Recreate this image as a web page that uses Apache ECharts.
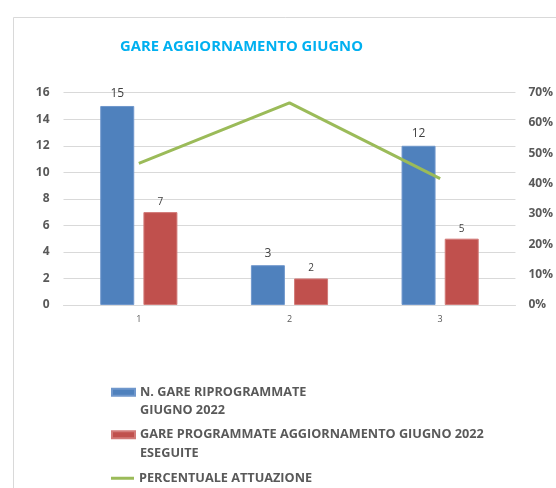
<!DOCTYPE html>
<html>
<head>
<meta charset="utf-8">
<script src="https://cdn.jsdelivr.net/npm/echarts@6/dist/echarts.min.js"></script>
<style>
  html, body { margin: 0; padding: 0; background: #fff; }
  #chart { width: 556px; height: 488px; }
</style>
</head>
<body>
<div id="chart"></div>
<script>
// dati del grafico
var categorie = ['1', '2', '3'];
var gareRiprogrammate = [15, 3, 12];
var gareEseguite = [7, 2, 5];
var percentuale = [46.67, 66.67, 41.67];
var tickSinistra = [0, 16, 2];
var tickDestra = [0, 70, 10];

var nomeBlu = 'N. GARE RIPROGRAMMATE\nGIUGNO 2022';
var nomeRosso = 'GARE PROGRAMMATE AGGIORNAMENTO GIUGNO 2022\nESEGUITE';
var nomeVerde = 'PERCENTUALE ATTUAZIONE';

var font = '"Open Sans", sans-serif';

var chart = echarts.init(document.getElementById('chart'));

var legendText = {
    color: '#595959',
    fontWeight: 'bold',
    fontSize: 12.7,
    fontFamily: font,
    lineHeight: 18.5
};

// riga vuota sopra per allineare il simbolo alla prima riga del testo
var primaRiga = function (name) { return '\n' + name; };

var option = {
    animation: false,
    backgroundColor: '#fff',
    title: {
        text: 'GARE AGGIORNAMENTO GIUGNO',
        left: 115,
        top: 34,
        textStyle: {
            color: '#00b0f0',
            fontSize: 14.8,
            fontWeight: 'bold',
            fontFamily: font
        }
    },
    graphic: [{
        type: 'rect',
        shape: { x: 13.5, y: 17.5, width: 700, height: 700 },
        style: { fill: 'none', stroke: '#d9d9d9', lineWidth: 1 },
        silent: true
    }],
    legend: [
        {
            data: [{ name: nomeBlu, icon: 'rect' }],
            left: 111, top: 364.5,
            padding: 0,
            itemWidth: 23, itemHeight: 7, itemGap: 0,
            formatter: primaRiga,
            textStyle: legendText
        },
        {
            data: [{ name: nomeRosso, icon: 'rect' }],
            left: 111, top: 407,
            padding: 0,
            itemWidth: 23, itemHeight: 7, itemGap: 0,
            formatter: primaRiga,
            textStyle: legendText
        },
        {
            data: [{ name: nomeVerde, icon: 'rect' }],
            left: 111, top: 469,
            padding: 0,
            itemWidth: 23, itemHeight: 3, itemGap: 0,
            textStyle: legendText
        }
    ],
    grid: {
        left: 63.5,
        right: 36,
        top: 92.7,
        bottom: 183,
        containLabel: false
    },
    xAxis: {
        type: 'category',
        data: categorie,
        axisLine: { show: true, lineStyle: { color: '#d9d9d9' } },
        axisTick: { show: false },
        axisLabel: { color: '#595959', fontSize: 9, margin: 10, fontFamily: font }
    },
    yAxis: [
        {
            type: 'value',
            min: tickSinistra[0], max: tickSinistra[1], interval: tickSinistra[2],
            axisLine: { show: false },
            axisTick: { show: false },
            splitLine: { lineStyle: { color: '#d9d9d9' } },
            axisLabel: { color: '#595959', fontSize: 12, fontWeight: 'bold', margin: 14, fontFamily: font }
        },
        {
            type: 'value',
            min: tickDestra[0], max: tickDestra[1], interval: tickDestra[2],
            axisLine: { show: false },
            axisTick: { show: false },
            splitLine: { show: false },
            axisLabel: {
                color: '#595959', fontSize: 12, fontWeight: 'bold', margin: 13, fontFamily: font,
                formatter: '{value}%'
            }
        }
    ],
    series: [
        {
            name: nomeBlu,
            type: 'bar',
            data: gareRiprogrammate,
            barWidth: 34,
            barGap: '27%',
            itemStyle: { color: '#4f81bd', borderColor: '#6f97cc', borderWidth: 1 },
            label: { show: true, position: 'top', distance: 6, color: '#404040', fontSize: 12, fontFamily: font }
        },
        {
            name: nomeRosso,
            type: 'bar',
            data: gareEseguite,
            barWidth: 34,
            itemStyle: { color: '#c0504d', borderColor: '#d27a78', borderWidth: 1 },
            label: { show: true, position: 'top', distance: 5, color: '#404040', fontSize: 10, fontFamily: font }
        },
        {
            name: nomeVerde,
            type: 'line',
            yAxisIndex: 1,
            data: percentuale,
            showSymbol: false,
            symbol: 'none',
            itemStyle: { color: '#9bbb59' },
            lineStyle: { color: '#9bbb59', width: 3 }
        }
    ]
};

chart.setOption(option);
</script>
</body>
</html>
